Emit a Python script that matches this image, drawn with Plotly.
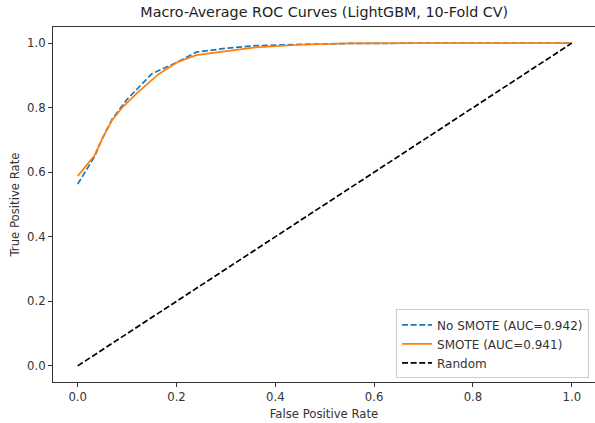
import plotly.graph_objects as go

# Data
fpr_no_smote = [0, 0.034, 0.05, 0.07, 0.10, 0.15, 0.20, 0.24, 0.30, 0.36, 0.45, 0.55, 0.70, 1.0]
tpr_no_smote = [0.563, 0.648, 0.705, 0.765, 0.826, 0.905, 0.940, 0.972, 0.984, 0.992, 0.996, 0.999, 1.0, 1.0]

fpr_smote = [0, 0.034, 0.05, 0.07, 0.09, 0.12, 0.163, 0.203, 0.24, 0.30, 0.36, 0.45, 0.55, 0.70, 1.0]
tpr_smote = [0.588, 0.652, 0.705, 0.762, 0.800, 0.845, 0.903, 0.942, 0.963, 0.976, 0.987, 0.995, 0.999, 1.0, 1.0]

random_x = [0, 1]
random_y = [0, 1]

labels = ["No SMOTE (AUC=0.942)", "SMOTE (AUC=0.941)", "Random"]
ticks = [0.0, 0.2, 0.4, 0.6, 0.8, 1.0]
tick_text = ["0.0", "0.2", "0.4", "0.6", "0.8", "1.0"]

FONT = "DejaVu Sans"

fig = go.Figure()
fig.add_trace(go.Scatter(x=fpr_no_smote, y=tpr_no_smote, mode="lines", name=labels[0],
                         line=dict(color="#1f77b4", width=1.7, dash="6px,2.6px")))
fig.add_trace(go.Scatter(x=fpr_smote, y=tpr_smote, mode="lines", name=labels[1],
                         line=dict(color="#ff7f0e", width=1.7)))
fig.add_trace(go.Scatter(x=random_x, y=random_y, mode="lines", name=labels[2],
                         line=dict(color="black", width=1.7, dash="6px,2.6px")))

axis_common = dict(
    showgrid=False, zeroline=False, showline=True, linecolor="#333", linewidth=1,
    ticks="outside", ticklen=4, tickwidth=1, tickcolor="#333",
    tickfont=dict(family=FONT, size=11.7, color="#333"),
    tickvals=ticks, ticktext=tick_text,
)

fig.update_layout(
    width=595, height=423,
    margin=dict(l=53, r=0, t=27, b=41),
    paper_bgcolor="white", plot_bgcolor="white",
    font=dict(family=FONT, color="#333"),
    title=dict(text="Macro-Average ROC Curves (LightGBM, 10-Fold CV)",
               x=0.545, xanchor="center", y=1 - 12 / 423, yanchor="middle",
               yref="container", font=dict(family=FONT, size=14.3, color="#222")),
    xaxis=dict(range=[-0.05, 1.047], mirror=True,
               title=dict(text="False Positive Rate", font=dict(family=FONT, size=11.7, color="#333"), standoff=6),
               **axis_common),
    yaxis=dict(range=[-0.05, 1.05], mirror=False,
               title=dict(text="True Positive Rate", font=dict(family=FONT, size=11.7, color="#333"), standoff=4),
               **axis_common),
    legend=dict(x=0.989, y=0.01, xanchor="right", yanchor="bottom",
                bgcolor="rgba(255,255,255,0.8)", bordercolor="#cccccc", borderwidth=1,
                font=dict(family=FONT, size=12, color="#333"), itemwidth=30,
                tracegroupgap=0),
    showlegend=True,
)

fig.write_html("out.html")
